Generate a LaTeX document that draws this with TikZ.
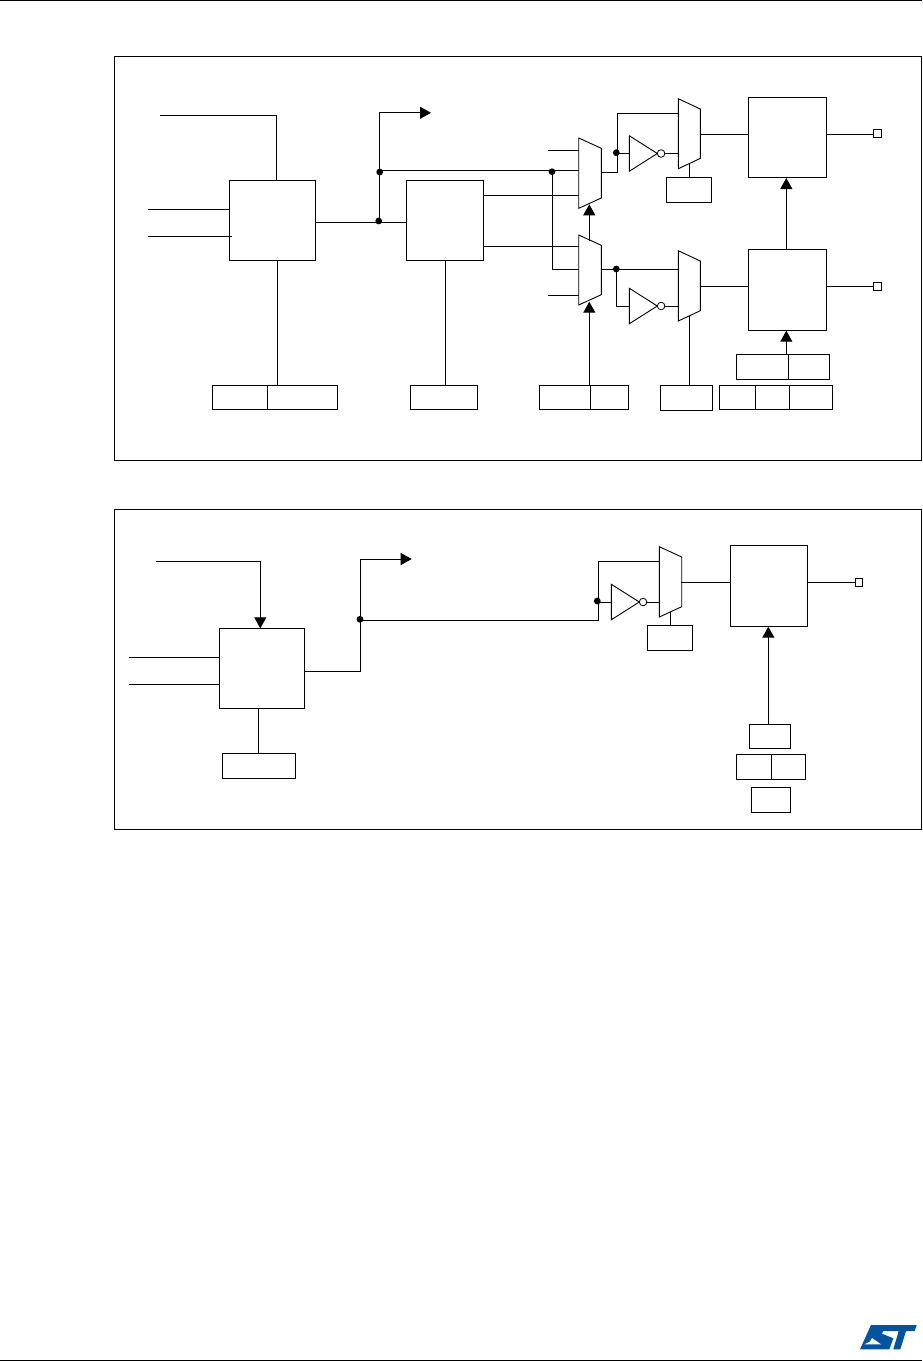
\documentclass[tikz,border=0pt]{standalone}
\usetikzlibrary{arrows.meta,calc}
\definecolor{stblue}{RGB}{3,84,158}
\tikzset{
  x=1pt,y=-1pt,
  wire/.style={draw=black,line width=1pt,line cap=rect},
  blk/.style={draw=black,line width=1pt,fill=white,rectangle,inner sep=0pt,outer sep=0pt},
  ghost/.style={rectangle,inner sep=0pt,outer sep=0pt},
  dotn/.style={circle,fill=black,inner sep=0pt,outer sep=0pt,minimum size=6.8pt},
  bub/.style={circle,draw=black,line width=.8pt,fill=white,inner sep=0pt,outer sep=0pt,minimum size=7.6pt},
  arr/.style={wire,-{Triangle[length=11pt,width=12pt]}},
  shapeline/.style={draw=black,line width=.9pt,fill=white,line join=miter},
}
% box: name, x1, y1, x2, y2
\newcommand{\bx}[5]{\node[blk,minimum width={(#4-#2)*1pt},minimum height={(#5-#3)*1pt}] (#1) at ({(#2+#4)/2},{(#3+#5)/2}) {};}
% mux: name, x1, x2, ytop, ybot  (slant 10.3)
\newcommand{\mx}[5]{\node[ghost,minimum width={(#3-#2)*1pt},minimum height={(#5-#4)*1pt}] (#1) at ({(#2+#3)/2},{(#4+#5)/2}) {};
  \path[shapeline] (#1.north west) -- ($(#1.north east)+(0,10.3)$) -- ($(#1.south east)+(0,-10.3)$) -- (#1.south west) -- cycle;}
% inverter: name, x, y
\newcommand{\inv}[3]{\node[ghost,minimum width=28pt,minimum height=35.5pt] (#1) at ({#2+14},#3) {};
  \path[shapeline] (#1.north west) -- (#1.east) -- (#1.south west) -- cycle;
  \node[bub] (#1b) at ({#2+31.8},#3) {};}
\begin{document}
\begin{tikzpicture}
\useasboundingbox (0,0) rectangle (922,1361);
\fill[white] (0,0) rectangle (922,1361);
% page rules
\coordinate (rtl) at (0,0.6); \coordinate (rtr) at (922,0.6);
\coordinate (rbl) at (0,1360.3); \coordinate (rbr) at (922,1360.3);
\draw[line width=1.1pt] (rtl) -- (rtr);
\draw[line width=1.1pt] (rbl) -- (rbr);
% frames
\node[blk,minimum width=806.8pt,minimum height=404.3pt] (frameA) at (517.9,258.2) {};
\node[blk,minimum width=806.8pt,minimum height=319.6pt] (frameB) at (517.9,669.5) {};

% ---------- upper diagram
\bx{A}{229.3}{180.3}{315.7}{260.3}
\bx{B}{406.3}{180.3}{483.3}{260.3}
\bx{C}{748.3}{97.3}{826.3}{177.3}
\bx{D}{748.3}{249.3}{826.3}{330.3}
\bx{pinC}{873.3}{129.3}{881.3}{137.3}
\bx{pinD}{873.3}{282.7}{881.3}{290.7}
\bx{aOne}{212.3}{385.3}{267.3}{409.3}
\bx{aTwo}{267.3}{385.3}{337.3}{409.3}
\bx{bOne}{410.3}{385.3}{477.3}{409.3}
\bx{sOne}{539.3}{385.3}{590.3}{409.3}
\bx{sTwo}{590.3}{385.3}{628.3}{409.3}
\bx{tBox}{660.3}{385.3}{712.3}{410.3}
\bx{uBox}{666.3}{177.3}{711.3}{202.3}
\bx{rOne}{736.3}{354.3}{788.3}{379.3}
\bx{rTwo}{788.3}{354.3}{829.3}{379.3}
\bx{qOne}{719.3}{385.3}{755.3}{409.3}
\bx{qTwo}{755.3}{385.3}{789.3}{409.3}
\bx{qThree}{789.3}{385.3}{832.3}{409.3}

\mx{mA}{578.7}{601.3}{138}{208.3}
\mx{mB}{578.7}{601.3}{235}{305}
\mx{mC}{678.3}{700.3}{98.7}{168.7}
\mx{mD}{678.3}{700.3}{250.7}{321}
\inv{iA}{629.3}{153.5}
\inv{iB}{629.3}{306}

\coordinate (inTop) at (160,115.3);
\coordinate (inL1) at (148,209.3);
\coordinate (inL2) at (148,236.3);
\coordinate (endL2) at (231,236.3);
\coordinate (jOut) at (379.3,222.3);
\coordinate (jUp) at (379.3,112.8);
\coordinate (outArr) at (431,112.8);
\coordinate (jMid) at (379.3,170.3);
\coordinate (jX) at (552.3,170.3);
\coordinate (jXb) at (552.3,269.3);
\coordinate (i1) at (548,150.3);
\coordinate (i2) at (548,295.3);
\coordinate (o1) at (617.3,172.3);
\coordinate (o1up) at (617.3,113.3);
\coordinate (o1dot) at (616.8,153.5);
\coordinate (o2) at (616.3,269);
\coordinate (o2dn) at (616.3,306);
\coordinate (yB1) at (0,195.3);
\coordinate (yB2) at (0,246.3);
\coordinate (yC) at (0,134.3);
\coordinate (yD) at (0,286.3);
\coordinate (xA) at (277.3,0);
\coordinate (xAt) at (276.3,0);
\coordinate (xB) at (445.3,0);
\coordinate (xMux) at (689.3,0);
\coordinate (xS) at (589.3,0);
\coordinate (xR) at (786.3,0);
\coordinate (mCsel) at (689.3,163.9);
\coordinate (mDsel) at (689.3,316);
\coordinate (tipB) at (589.3,301.7);
\coordinate (tipA) at (589.3,204.3);
\coordinate (topB) at (589.3,240);
\coordinate (tipC) at (786.3,178);
\coordinate (tipD) at (786.3,330.7);

\draw[wire] (inTop) -- (inTop -| xAt) -- (xAt |- A.north);
\draw[wire] (inL1) -- (inL1 -| A.west);
\draw[wire] (inL2) -- (endL2);
\draw[wire] (A.east |- jOut) -- (B.west |- jOut);
\draw[wire] (jOut) -- (jUp);
\draw[arr] (jUp) -- (outArr);
\draw[wire] (jMid) -- (jMid -| mA.west);
\draw[wire] (jX) -- (jXb) -- (jXb -| mB.west);
\draw[wire] (B.east |- yB1) -- (mA.west |- yB1);
\draw[wire] (B.east |- yB2) -- (mB.west |- yB2);
\draw[wire] (i1) -- (i1 -| mA.west);
\draw[wire] (i2) -- (i2 -| mB.west);
\draw[wire] (mA.east |- o1) -- (o1) -- (o1up) -- (o1up -| mC.west);
\draw[wire] (o1dot) -- (o1dot -| iA.west);
\draw[wire] (iAb.east) -- (iAb.east -| mC.west);
\draw[wire] (mB.east |- o2) -- (o2 -| mD.west);
\draw[wire] (o2) -- (o2dn) -- (iB.west);
\draw[wire] (iBb.east) -- (iBb.east -| mD.west);
\draw[wire] (mC.east |- yC) -- (C.west |- yC);
\draw[wire] (C.east |- yC) -- (pinC.west |- yC);
\draw[wire] (mD.east |- yD) -- (D.west |- yD);
\draw[wire] (D.east |- yD) -- (pinD.west |- yD);
\draw[wire] (A.south -| xA) -- (aOne.north -| xA);
\draw[wire] (B.south -| xB) -- (bOne.north -| xB);
\draw[wire] (mCsel) -- (uBox.north -| xMux);
\draw[wire] (mDsel) -- (tBox.north -| xMux);
\draw[arr] (sOne.north -| xS) -- (tipB);
\draw[arr] (topB) -- (tipA);
\draw[arr] (D.north -| xR) -- (tipC);
\draw[arr] (rOne.north -| xR) -- (tipD);
\node[dotn] (d1) at (378.7,221) {};
\node[dotn] (d2) at (379.7,172) {};
\node[dotn] (d3) at (552,171.7) {};
\node[dotn] (d4) at (616.3,152.7) {};
\node[dotn] (d5) at (616.3,269) {};

% ---------- lower diagram
\bx{E}{219.3}{628.3}{304.3}{708.3}
\bx{F}{730.3}{545.3}{807.7}{626.3}
\bx{pinF}{855.3}{578.3}{862.7}{586.7}
\bx{eBox}{222.3}{753.3}{295.3}{778.3}
\bx{vBox}{647.3}{625.3}{692.3}{650.3}
\bx{wA}{749.3}{724.3}{790.3}{748.3}
\bx{wB}{736.3}{754.3}{771.3}{779.3}
\bx{wC}{771.3}{754.3}{805.3}{779.3}
\bx{wD}{751.3}{787.3}{790.3}{812.3}
\mx{mE}{659.3}{681.7}{546.7}{617}
\inv{iE}{611.3}{602}
\coordinate (einTop) at (156,561.3);
\coordinate (einBend) at (260.3,561.3);
\coordinate (eL1) at (129,657.3);
\coordinate (eL2) at (129,684);
\coordinate (eOut) at (360.3,671.3);
\coordinate (eUp) at (360.3,559);
\coordinate (eArr) at (411.7,559);
\coordinate (eMid) at (360.3,620.3);
\coordinate (eBend) at (598.3,620.3);
\coordinate (eBendUp) at (598.3,561.7);
\coordinate (eDot) at (597.3,602);
\coordinate (yF) at (0,582.3);
\coordinate (xE) at (258.3,0);
\coordinate (mEsel) at (670.3,612);
\coordinate (xW) at (768.3,0);
\coordinate (tipF) at (768.3,626.7);
\draw[wire] (einTop) -- (einBend);
\draw[arr] (einBend) -- (einBend |- E.north);
\draw[wire] (eL1) -- (eL1 -| E.west);
\draw[wire] (eL2) -- (eL2 -| E.west);
\draw[wire] (E.east |- eOut) -- (eOut) -- (eUp);
\draw[arr] (eUp) -- (eArr);
\draw[wire] (eMid) -- (eBend) -- (eBendUp) -- (eBendUp -| mE.west);
\draw[wire] (eDot) -- (iE.west);
\draw[wire] (iEb.east) -- (iEb.east -| mE.west);
\draw[wire] (mE.east |- yF) -- (F.west |- yF);
\draw[wire] (F.east |- yF) -- (pinF.west |- yF);
\draw[wire] (E.south -| xE) -- (eBox.north -| xE);
\draw[wire] (mEsel) -- (vBox.north -| mEsel);
\draw[arr] (wA.north -| xW) -- (tipF);
\node[dotn] (d6) at (360,619.3) {};
\node[dotn] (d7) at (597.3,601) {};

% ---------- logo
\fill[stblue] (871,1325) -- (916.7,1325) -- (914.7,1331) -- (906,1331) -- (900.3,1349.3) -- (893.3,1349.3) -- (898.7,1331) -- (883.3,1331) -- (882,1333.7) -- (893.3,1338.3) -- (889.3,1349.3) -- (860,1349.3) -- cycle;
\fill[white] (864.5,1344.3) -- (881,1344.3) -- (872,1338) -- (870,1341.5) -- cycle;
\end{tikzpicture}
\end{document}
